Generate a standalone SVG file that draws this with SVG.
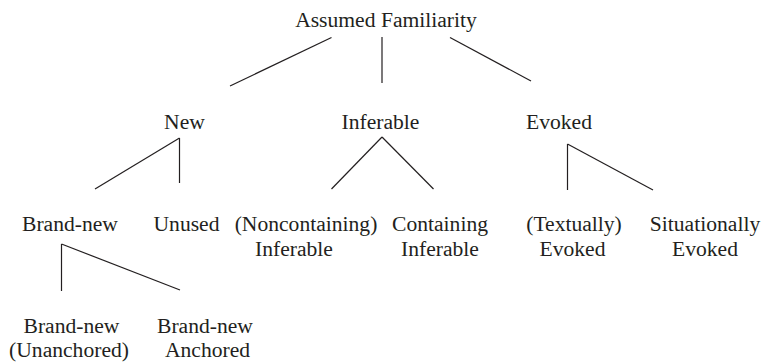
<svg xmlns="http://www.w3.org/2000/svg" width="764" height="363" viewBox="0 0 764 363">
<style>
text{font-family:"Liberation Serif","Times New Roman",serif;font-size:21.6px;fill:#231f20;text-anchor:middle}
.c line{stroke:#231f20;stroke-width:1.2;fill:none}
</style>
<rect width="764" height="363" fill="#fff"/>
<g class="c" id="connectors">
<line x1="331.5" y1="37.5" x2="230" y2="86"/>
<line x1="382" y1="37" x2="382" y2="83"/>
<line x1="450" y1="37.5" x2="531" y2="81"/>
<line x1="179.5" y1="138" x2="95" y2="189"/>
<line x1="179.5" y1="138" x2="179.5" y2="183"/>
<line x1="382" y1="137" x2="331.5" y2="189"/>
<line x1="382" y1="137" x2="433.5" y2="189"/>
<line x1="567.5" y1="144" x2="567.5" y2="190"/>
<line x1="567.5" y1="144" x2="653" y2="190"/>
<line x1="61.5" y1="244" x2="61.5" y2="291"/>
<line x1="61.5" y1="244" x2="180" y2="290"/>
</g>
<g id="assumed-familiarity"><text x="386" y="27">Assumed Familiarity</text></g>
<g id="new"><text x="184.5" y="129">New</text></g>
<g id="inferable"><text x="380.5" y="129">Inferable</text></g>
<g id="evoked"><text x="559" y="129">Evoked</text></g>
<g id="brand-new"><text x="70" y="231">Brand-new</text></g>
<g id="unused"><text x="186.5" y="231">Unused</text></g>
<g id="noncontaining-inferable"><text x="306" y="231">(Noncontaining)</text><text x="294" y="256">Inferable</text></g>
<g id="containing-inferable"><text x="440" y="231">Containing</text><text x="440" y="256">Inferable</text></g>
<g id="textually-evoked"><text x="574" y="231">(Textually)</text><text x="572.5" y="256">Evoked</text></g>
<g id="situationally-evoked"><text x="705" y="231">Situationally</text><text x="705" y="256">Evoked</text></g>
<g id="brand-new-unanchored"><text x="71.5" y="333">Brand-new</text><text x="69" y="357">(Unanchored)</text></g>
<g id="brand-new-anchored"><text x="205" y="333">Brand-new</text><text x="207.5" y="357">Anchored</text></g>
</svg>
